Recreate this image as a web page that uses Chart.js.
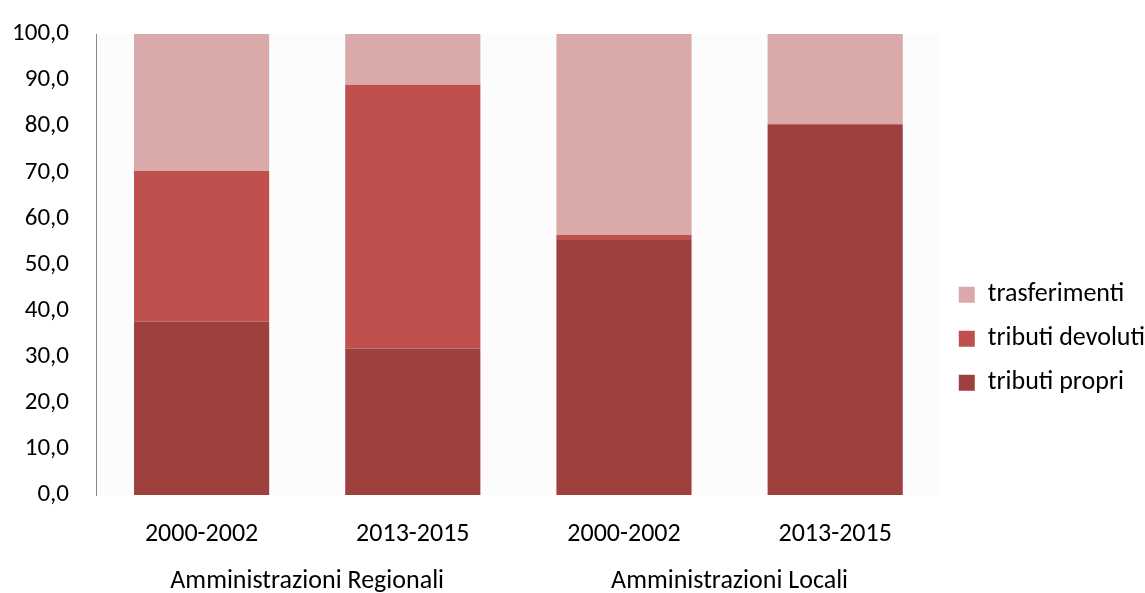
<!DOCTYPE html>
<html>
<head>
<meta charset="utf-8">
<script src="https://cdn.jsdelivr.net/npm/chart.js@4"></script>
<style>
  html, body { margin: 0; padding: 0; background: #ffffff; }
  #wrap { width: 1145px; height: 593px; }
</style>
</head>
<body>
<div id="wrap"><canvas id="chart"></canvas></div>
<script>
const periods = ["2000-2002", "2013-2015", "2000-2002", "2013-2015"];
const groups = ["Amministrazioni Regionali", "Amministrazioni Locali"];
const tributiPropri = [37.6, 31.8, 55.3, 80.4];
const tributiDevoluti = [32.7, 57.2, 1.1, 0.0];
const trasferimenti = [29.7, 11.0, 43.6, 19.6];

const FONT = "Carlito, Calibri, 'Open Sans', sans-serif";
const SIZE = 26;

// light plot background
const plotBg = {
  id: "plotBg",
  beforeDraw(chart) {
    const a = chart.chartArea;
    const ctx = chart.ctx;
    ctx.save();
    ctx.fillStyle = "#fcfcfc";
    ctx.fillRect(a.left, a.top, a.right - a.left, a.bottom - a.top);
    ctx.restore();
  }
};

new Chart(document.getElementById("chart"), {
  type: "bar",
  data: {
    labels: periods,
    datasets: [
      { label: "tributi propri", data: tributiPropri, backgroundColor: "#9e403e" },
      { label: "tributi devoluti", data: tributiDevoluti, backgroundColor: "#c0504e" },
      { label: "trasferimenti", data: trasferimenti, backgroundColor: "#daaaaa" }
    ]
  },
  options: {
    responsive: true,
    maintainAspectRatio: false,
    animation: false,
    datasets: { bar: { barPercentage: 0.64, categoryPercentage: 1 } },
    layout: { padding: { top: 16, left: 0, right: -10, bottom: 0 } },
    plugins: {
      legend: {
        position: "right",
        reverse: true,
        title: { display: true, text: " ", font: { size: 2 }, padding: { top: 0, bottom: 66 } },
        labels: {
          boxWidth: 16, boxHeight: 16, padding: 18,
          color: "#000", font: { family: FONT, size: SIZE }
        }
      },
      tooltip: { enabled: false }
    },
    scales: {
      x: {
        stacked: true,
        weight: 0,
        grid: { display: false },
        border: { display: false },
        ticks: { color: "#000", padding: 16, font: { family: FONT, size: SIZE } },
        afterFit: s => { s.height = 50; }
      },
      group: {
        type: "category",
        position: "bottom",
        labels: groups,
        offset: true,
        weight: 1,
        grid: { display: false },
        border: { display: false },
        ticks: { color: "#000", padding: 13, font: { family: FONT, size: SIZE } },
        afterFit: s => { s.height = 48; }
      },
      y: {
        stacked: true,
        min: 0, max: 100,
        grid: { display: false },
        border: { display: true, color: "#888", width: 1 },
        ticks: {
          stepSize: 10, color: "#000", padding: 19,
          font: { family: FONT, size: 25 },
          callback: v => v.toFixed(1).replace(".", ",")
        },
        afterFit: s => { s.width = 96; }
      }
    }
  },
  plugins: [plotBg]
});
</script>
</body>
</html>
